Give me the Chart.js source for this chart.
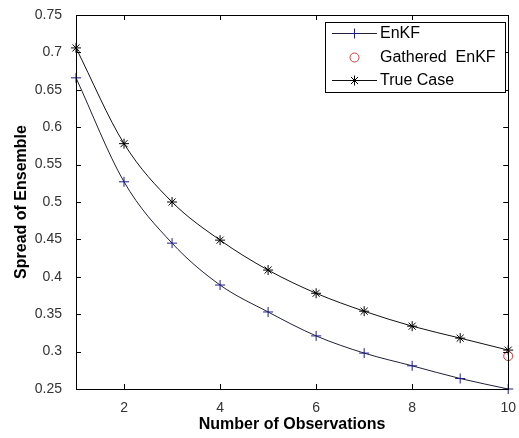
<!DOCTYPE html>
<html>
<head>
<meta charset="utf-8">
<script src="https://cdn.jsdelivr.net/npm/chart.js@4.4.0/dist/chart.umd.min.js"></script>
<style>
  html, body { margin: 0; padding: 0; background: #fff; }
  #wrap { width: 519px; height: 438px; }
</style>
</head>
<body>
<div id="wrap"><canvas id="spread" width="519" height="438"></canvas></div>
<script>
"use strict";

// Spread of ensemble vs number of observations
var observations = [1, 2, 3, 4, 5, 6, 7, 8, 9, 10];
var enkf = [0.666, 0.527, 0.445, 0.389, 0.353, 0.321, 0.298, 0.281, 0.264, 0.250];
var trueCase = [0.706, 0.578, 0.500, 0.449, 0.409, 0.378, 0.354, 0.334, 0.318, 0.302];
var gatheredObs = [10];
var gatheredEnkf = [0.294];

var xTicks = [2, 4, 6, 8, 10];
var yTicks = [0.25, 0.3, 0.35, 0.4, 0.45, 0.5, 0.55, 0.6, 0.65, 0.7, 0.75];

function pairs(xs, ys) {
    return xs.map(function (x, i) { return {x: x, y: ys[i]}; });
}

// Box around the axes, inward ticks on all four sides, legend in the corner
var axesBox = {
    id: 'axesBox',
    afterDatasetsDraw: function (chart) {
        var ctx = chart.ctx, a = chart.chartArea;
        var xs = chart.scales.x, ys = chart.scales.y;
        var len = 5;
        ctx.save();
        ctx.strokeStyle = '#000';
        ctx.lineWidth = 1;
        ctx.beginPath();
        xTicks.forEach(function (v) {
            var px = Math.round(xs.getPixelForValue(v)) + 0.5;
            ctx.moveTo(px, a.bottom); ctx.lineTo(px, a.bottom - len);
            ctx.moveTo(px, a.top); ctx.lineTo(px, a.top + len);
        });
        yTicks.forEach(function (v) {
            var py = Math.round(ys.getPixelForValue(v)) + 0.5;
            ctx.moveTo(a.left, py); ctx.lineTo(a.left + len, py);
            ctx.moveTo(a.right, py); ctx.lineTo(a.right - len, py);
        });
        ctx.stroke();
        ctx.strokeRect(Math.round(a.left) + 0.5, Math.round(a.top) + 0.5,
            Math.round(a.right - a.left), Math.round(a.bottom - a.top));

        // legend
        var lx = 325, ly = 22, lw = 180, lh = 70;
        ctx.fillStyle = '#fff';
        ctx.fillRect(lx, ly, lw, lh);
        ctx.strokeRect(lx + 0.5, ly + 0.5, lw, lh);
        ctx.font = '16px Arial, "Liberation Sans", sans-serif';
        ctx.textBaseline = 'middle';
        ctx.textAlign = 'left';
        var rows = [33, 57, 80];
        chart.data.datasets.forEach(function (ds, i) {
            var y = rows[i] + 0.5;
            if (ds.showLine !== false) {
                ctx.strokeStyle = ds.borderColor;
                ctx.lineWidth = 1;
                ctx.beginPath();
                ctx.moveTo(332, y); ctx.lineTo(377, y);
                ctx.stroke();
            }
            ctx.strokeStyle = ds.pointBorderColor;
            ctx.fillStyle = 'rgba(0,0,0,0)';
            Chart.helpers.drawPoint(ctx, {
                pointStyle: ds.pointStyle,
                radius: ds.pointRadius,
                borderWidth: 1,
                rotation: 0
            }, 354.5, y);
            ctx.fillStyle = '#000';
            ctx.fillText(ds.label, 380, rows[i] + 1);
        });
        ctx.restore();
    }
};

var ctx = document.getElementById('spread').getContext('2d');
var spreadChart = new Chart(ctx, {
    type: 'line',
    data: {
        datasets: [{
            label: 'EnKF',
            data: pairs(observations, enkf),
            borderColor: '#202038',
            borderWidth: 1,
            pointStyle: 'cross',
            pointRadius: 5,
            pointBorderColor: '#1c1c8c',
            pointBorderWidth: 1,
            cubicInterpolationMode: 'monotone',
            clip: false
        }, {
            label: 'Gathered  EnKF',
            data: pairs(gatheredObs, gatheredEnkf),
            showLine: false,
            borderColor: '#c8403c',
            pointStyle: 'circle',
            pointRadius: 4.5,
            pointBorderColor: '#c8403c',
            pointBackgroundColor: 'rgba(0,0,0,0)',
            pointBorderWidth: 1,
            clip: false
        }, {
            label: 'True Case',
            data: pairs(observations, trueCase),
            borderColor: '#111',
            borderWidth: 1,
            pointStyle: 'star',
            pointRadius: 5,
            pointBorderColor: '#000',
            pointBorderWidth: 1,
            cubicInterpolationMode: 'monotone',
            clip: false
        }]
    },
    options: {
        responsive: false,
        animation: false,
        layout: {padding: {left: 10, right: 9, top: 15, bottom: 0}},
        plugins: {legend: {display: false}, tooltip: {enabled: false}},
        scales: {
            x: {
                type: 'linear',
                min: 1,
                max: 10,
                grid: {display: false},
                border: {display: false},
                afterBuildTicks: function (scale) {
                    scale.ticks = xTicks.map(function (v) { return {value: v}; });
                },
                afterFit: function (scale) { scale.height = 49; },
                ticks: {
                    color: '#333',
                    padding: 3,
                    font: {family: 'Arial, "Liberation Sans", sans-serif', size: 14}
                },
                title: {
                    display: true,
                    text: 'Number of Observations',
                    color: '#000',
                    padding: {top: 2, bottom: 4},
                    font: {family: 'Arial, "Liberation Sans", sans-serif', size: 16, weight: 'bold'}
                }
            },
            y: {
                type: 'linear',
                min: 0.25,
                max: 0.75,
                grid: {display: false},
                border: {display: false},
                afterBuildTicks: function (scale) {
                    scale.ticks = yTicks.map(function (v) { return {value: v}; });
                },
                afterFit: function (scale) { scale.width = 66; },
                ticks: {
                    color: '#333',
                    padding: 6,
                    font: {family: 'Arial, "Liberation Sans", sans-serif', size: 14},
                    callback: function (v) { return String(+v.toFixed(2)); }
                },
                title: {
                    display: true,
                    text: 'Spread of Ensemble',
                    color: '#000',
                    padding: {top: 2, bottom: 2},
                    font: {family: 'Arial, "Liberation Sans", sans-serif', size: 16, weight: 'bold'}
                }
            }
        }
    },
    plugins: [axesBox]
});
</script>
</body>
</html>
